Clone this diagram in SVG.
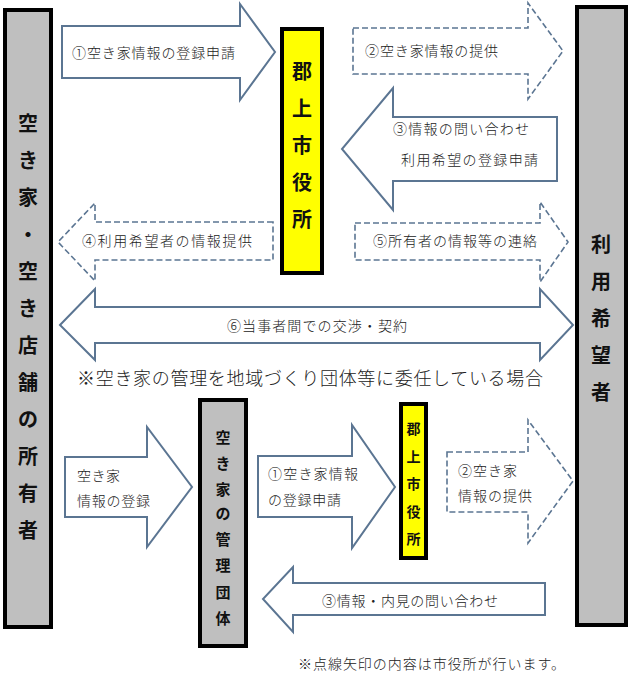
<svg xmlns="http://www.w3.org/2000/svg" width="629" height="681" viewBox="0 0 629 681">
<style>
.bg{fill:#ffffff}
.grey{fill:#bfbfbf;stroke:#000;stroke-width:4}
.yel{fill:#ffff00;stroke:#000;stroke-width:4}
.solid{fill:#fff;stroke:#5b7592;stroke-width:2;stroke-linejoin:miter}
.dash{fill:#fff;stroke:#5b7592;stroke-width:1.6;stroke-dasharray:6 3}
.lbl{font-family:"Noto Sans CJK JP","Noto Sans",sans-serif;font-size:14px;font-weight:300;fill:#222;dominant-baseline:central}
.big{font-family:"Noto Sans CJK JP","Noto Sans",sans-serif;font-weight:bold;fill:#111;text-anchor:middle;dominant-baseline:central}
.note{font-family:"Noto Sans CJK JP","Noto Sans",sans-serif;font-weight:300;fill:#222;dominant-baseline:central}
</style>
<rect class="bg" x="0" y="0" width="629" height="681"/>

<g id="owner">
<rect class="grey" x="5" y="10" width="46" height="617"/>
<g class="big" font-size="20">
<text x="28" y="122">空</text><text x="28" y="159">き</text><text x="28" y="196">家</text><text x="28" y="233">・</text><text x="28" y="270">空</text><text x="28" y="307">き</text><text x="28" y="344">店</text><text x="28" y="381">舗</text><text x="28" y="418">の</text><text x="28" y="455">所</text><text x="28" y="492">有</text><text x="28" y="529">者</text>
</g>
</g>

<g id="user">
<rect class="grey" x="577" y="7" width="49" height="618"/>
<g class="big" font-size="20">
<text x="601" y="243">利</text><text x="601" y="280">用</text><text x="601" y="317">希</text><text x="601" y="354">望</text><text x="601" y="391">者</text>
</g>
</g>

<g id="cityhall-top">
<rect class="yel" x="282" y="29" width="40" height="244"/>
<g class="big" font-size="20">
<text x="302" y="70">郡</text><text x="302" y="107">上</text><text x="302" y="144">市</text><text x="302" y="181">役</text><text x="302" y="218">所</text>
</g>
</g>

<g id="management">
<rect class="grey" x="200" y="400" width="46" height="246"/>
<g class="big" font-size="15">
<text x="223" y="436">空</text><text x="223" y="462">き</text><text x="223" y="488">家</text><text x="223" y="512">の</text><text x="223" y="538">管</text><text x="223" y="564">理</text><text x="223" y="591">団</text><text x="223" y="617">体</text>
</g>
</g>

<g id="cityhall-bottom">
<rect class="yel" x="401" y="404" width="25" height="154"/>
<g class="big" font-size="14">
<text x="413.5" y="428">郡</text><text x="413.5" y="456">上</text><text x="413.5" y="483">市</text><text x="413.5" y="511">役</text><text x="413.5" y="538">所</text>
</g>
</g>

<g id="connectors">
<path class="solid" d="M62,26 H240 V4 L275,52 L240,100 V78 H62 Z"/>
<text class="lbl" x="72" y="52" textLength="163" lengthAdjust="spacing">①空き家情報の登録申請</text>

<path class="dash" d="M353,28 H528 V3 L563,51 L528,99 V74 H353 Z"/>
<text class="lbl" x="365" y="50" textLength="133" lengthAdjust="spacing">②空き家情報の提供</text>

<path class="solid" d="M557,117 H393 V88 L342,149 L393,210 V181 H557 Z"/>
<text class="lbl" x="393" y="128" textLength="136" lengthAdjust="spacing">③情報の問い合わせ</text>
<text class="lbl" x="401" y="159" textLength="137" lengthAdjust="spacing">利用希望の登録申請</text>

<path class="dash" d="M273,222 H95 V203 L58,242 L95,281 V260 H273 Z"/>
<text class="lbl" x="82" y="240" textLength="170" lengthAdjust="spacing">④利用希望者の情報提供</text>

<path class="dash" d="M355,223 H540 V202 L568,242 L540,282 V260 H355 Z"/>
<text class="lbl" x="373" y="240" textLength="164" lengthAdjust="spacing">⑤所有者の情報等の連絡</text>

<path class="solid" d="M60,325 L95,289 V307 H540 V289 L573,325 L540,360 V343 H95 V360 Z"/>
<text class="lbl" x="227" y="325" textLength="180" lengthAdjust="spacing">⑥当事者間での交渉・契約</text>

<path class="solid" d="M65,457 H147 V427 L192,487 L147,547 V517 H65 Z"/>
<text class="lbl" x="77" y="475" textLength="43" lengthAdjust="spacing">空き家</text>
<text class="lbl" x="77" y="500" textLength="73" lengthAdjust="spacing">情報の登録</text>

<path class="solid" d="M258,456 H352 V425 L395,487 L352,548 V517 H258 Z"/>
<text class="lbl" x="268" y="473" textLength="90" lengthAdjust="spacing">①空き家情報</text>
<text class="lbl" x="268" y="499" textLength="73" lengthAdjust="spacing">の登録申請</text>

<path class="dash" d="M447,452 H528 V420 L573,481 L528,543 V512 H447 Z"/>
<text class="lbl" x="458" y="470" textLength="59" lengthAdjust="spacing">②空き家</text>
<text class="lbl" x="458" y="495" textLength="74" lengthAdjust="spacing">情報の提供</text>

<path class="solid" d="M545,583 H293 V567 L263,599 L293,632 V615 H545 Z"/>
<text class="lbl" x="322" y="600" textLength="176" lengthAdjust="spacing">③情報・内見の問い合わせ</text>
</g>

<text class="note" x="77" y="377" font-size="18" textLength="466" lengthAdjust="spacing">※空き家の管理を地域づくり団体等に委任している場合</text>
<text class="note" x="298" y="663" font-size="14" textLength="267" lengthAdjust="spacing">※点線矢印の内容は市役所が行います。</text>
</svg>
